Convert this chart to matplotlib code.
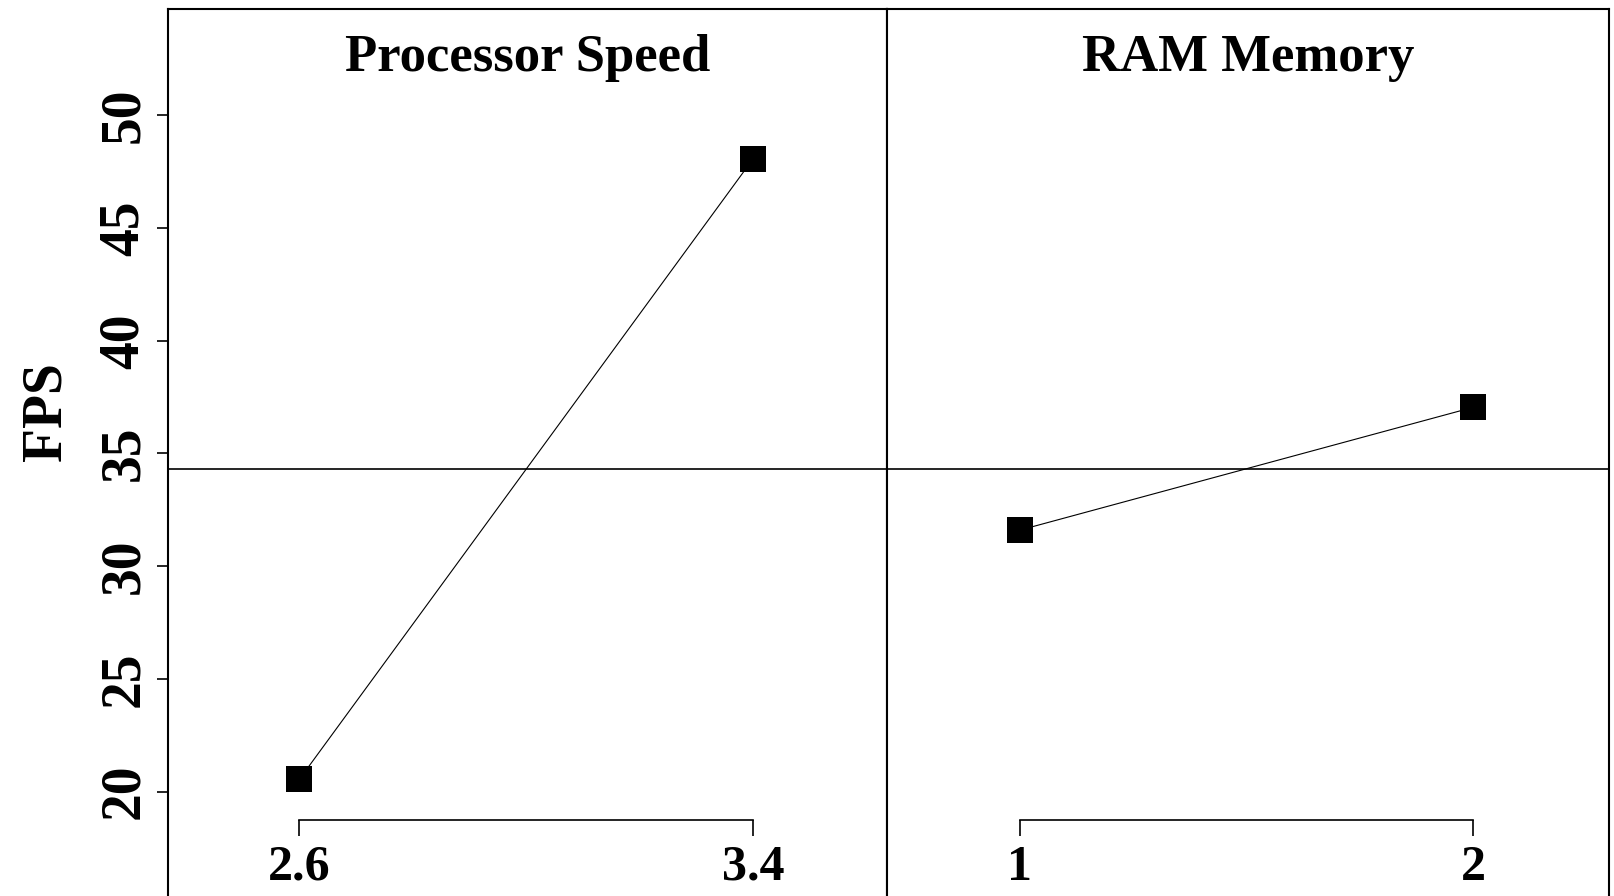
import matplotlib.pyplot as plt
import numpy as np

# main effects data
panel_titles = ['Processor Speed', 'RAM Memory']
proc_levels = [2.6, 3.4]
proc_fps = [20.55, 48.05]
ram_levels = [1, 2]
ram_fps = [31.6, 37.05]
y_ticks = [20, 25, 30, 35, 40, 45, 50]

plt.rcParams['font.family'] = ['Liberation Serif', 'DejaVu Serif']
plt.rcParams['font.weight'] = 'bold'

fig = plt.figure(figsize=(16.14, 8.96), dpi=100)
grand_mean = np.mean(proc_fps + ram_fps)

ax1 = fig.add_axes([0.1041, -0.135, 0.4455, 1.125])
ax2 = fig.add_axes([0.5496, -0.135, 0.4473, 1.125])

panels = [(ax1, proc_levels, proc_fps, (2.368, 3.637)),
          (ax2, ram_levels, ram_fps, (0.707, 2.299))]

for i, (ax, lv, fps, xl) in enumerate(panels):
    ax.plot(lv, fps, color='black', lw=0.8, marker='s', ms=19,
            markeredgewidth=0, zorder=3)
    ax.axhline(grand_mean, color='black', lw=1.2)
    ax.set_xlim(xl)
    ax.set_ylim(10, 54.72)
    ax.text(np.mean(xl), 51.95, panel_titles[i], ha='center', va='baseline',
            fontsize=38, fontweight='bold')
    # bracket axis like R
    ax.spines['bottom'].set_position(('data', 18.72))
    ax.spines['bottom'].set_bounds(lv[0], lv[-1])
    ax.spines['bottom'].set_linewidth(1.2)
    for s in ['left', 'right', 'top']:
        ax.spines[s].set_linewidth(1.5)
    ax.set_xticks(lv)
    ax.set_xticklabels([str(v) for v in lv])
    ax.tick_params(axis='x', direction='out', length=11.5, width=1.2,
                   pad=6, labelsize=36)
    if i == 0:
        ax.set_yticks(y_ticks)
        ax.tick_params(axis='y', direction='out', length=8, width=1.2,
                       pad=5, labelsize=40)
        for lab in ax.get_yticklabels():
            lab.set_rotation(90)
            lab.set_va('center')
    else:
        ax.set_yticks([])

fig.text(46 / 1614, 0.5405, 'FPS', rotation=90, ha='center', va='center',
         fontsize=40, fontweight='bold')

plt.savefig('out.png', dpi=100)
